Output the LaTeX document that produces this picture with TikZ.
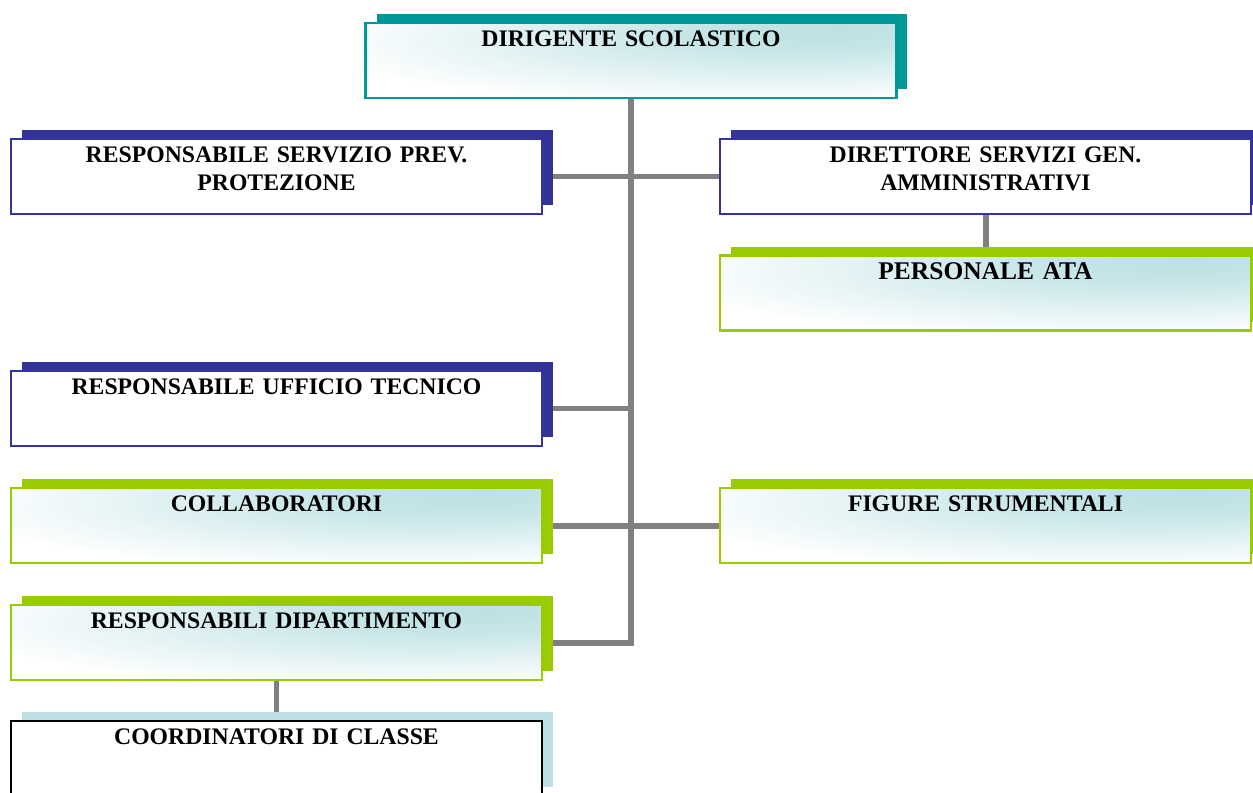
\documentclass[tikz,border=0pt]{standalone}
\usepackage{fontspec}
\setmainfont{Liberation Serif}
\usetikzlibrary{shadows,backgrounds}
\definecolor{tealdark}{HTML}{009999}
\definecolor{navyblue}{HTML}{333399}
\definecolor{limegreen}{HTML}{99CC00}
\definecolor{palecyan}{HTML}{BCE0E4}
\definecolor{linkgray}{HTML}{808080}
\pgfdeclareradialshading{glow}{\pgfpoint{20bp}{22bp}}{%
  rgb(0bp)=(0.74,0.88,0.89); rgb(12bp)=(0.78,0.90,0.91);%
  rgb(40bp)=(1,1,1); rgb(80bp)=(1,1,1)}

\begin{document}
\begin{tikzpicture}[x=0.02cm,y=-0.02cm,%
    box/.style={rectangle, line width=1.4pt, minimum width=10.62cm, minimum height=1.5cm,%
      inner sep=0pt, text width=10cm, align=center, text height=0.47cm, text depth=1.03cm,%
      font=\bfseries\fontsize{13.5}{16}\selectfont},%
    lift/.style={drop shadow={shadow xshift=0.22cm, shadow yshift=0.18cm, fill=#1, opacity=1}},%
    tealbox/.style={box, draw=tealdark, shade, shading=glow, lift=tealdark},%
    navybox/.style={box, draw=navyblue, fill=white, lift=navyblue},%
    limebox/.style={box, draw=limegreen, shade, shading=glow, lift=limegreen},%
    plainbox/.style={box, draw=black, fill=white, lift=palecyan},%
    link/.style={draw=linkgray, line width=3.4pt}]%
  \useasboundingbox (0,0) rectangle (1253,792);%
  \clip (0,0) rectangle (1253,792);%
  % top
  \node[tealbox] (dir) at (631,60.5) {DIRIGENTE SCOLASTICO};%
  % left column
  \node[navybox] (rsp) at (276.5,176.5) {RESPONSABILE SERVIZIO PREV.\\ PROTEZIONE};%
  \node[navybox] (ruf) at (276.5,408.5) {RESPONSABILE UFFICIO TECNICO};%
  \node[limebox] (coll) at (276.5,525.5) {COLLABORATORI};%
  \node[limebox] (rdip) at (276.5,642.5) {RESPONSABILI DIPARTIMENTO};%
  \node[plainbox] (coord) at (276.5,758.5) {COORDINATORI DI CLASSE};%
  % right column
  \node[navybox] (dsga) at (985.5,176.5) {DIRETTORE SERVIZI GEN.\\ AMMINISTRATIVI};%
  \node[limebox, font=\bfseries\fontsize{14.5}{17}\selectfont] (ata) at (985.5,293) {PERSONALE ATA};%
  \node[limebox] (fig) at (985.5,525.5) {FIGURE STRUMENTALI};%
  % links
  \begin{scope}[on background layer]
    \draw[link] (dir.south) |- (rdip.east);%
    \draw[link] (rsp.east) -- (dsga.west);%
    \draw[link] (ruf.east) -- (ruf.east -| dir.south);%
    \draw[link] (coll.east) -- (fig.west);%
    \draw[link] (dsga.south) -- (ata.north);%
    \draw[link] (rdip.south) -- (coord.north);%
  \end{scope}
\end{tikzpicture}
\end{document}
